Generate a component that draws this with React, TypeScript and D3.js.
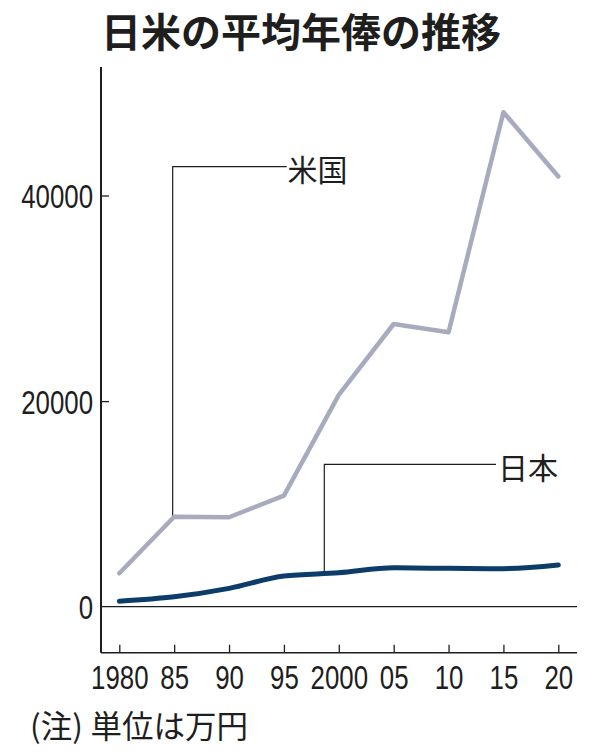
import { useEffect, useRef } from 'react';
import * as d3 from 'd3';

// ─── Data ───────────────────────────────────────────────────

const years = [1980, 1985, 1990, 1995, 2000, 2005, 2010, 2015, 2020];
const yearLabels = ['1980', '85', '90', '95', '2000', '05', '10', '15', '20'];
const usaValues = [3250, 8750, 8700, 10800, 20600, 27500, 26700, 48100, 41850];
const japanValues = [540, 960, 1780, 2980, 3300, 3780, 3730, 3700, 4050];
const yTicks = [0, 20000, 40000];

const W = 596;
const H = 756;

const NAVY = '#0c3c6a';
const GREY = '#a8abbe';
const INK = '#1e1e1e';
const CJK = '"Noto Sans CJK JP", "Noto Sans CJK SC", sans-serif';
const NUM = '"Liberation Sans", Arial, sans-serif';
// condensed digits: squeeze the regular face horizontally
const SQUEEZE = 0.76;

export default function App() {
  const svgRef = useRef<SVGSVGElement>(null);

  useEffect(() => {
    if (!svgRef.current) return;
    const svg = d3.select(svgRef.current);
    svg.selectAll('*').remove();

    const axisLeftX = 101;
    const axisRightX = 577;
    const axisTopY = 67;
    const axisBottomY = 652.7;

    const x = d3.scaleLinear().domain([1980, 2020]).range([119.3, 558.3]);
    const y = d3.scaleLinear().domain([0, 40000]).range([606.7, 195.5]);

    svg.append('rect').attr('width', W).attr('height', H).attr('fill', '#fff');

    // Title
    svg.append('text')
      .attr('x', 101).attr('y', 47)
      .attr('font-family', CJK).attr('font-weight', 700)
      .attr('font-size', 40).attr('fill', INK)
      .text('日米の平均年俸の推移');

    // Frame: y axis, x axis, zero line
    svg.append('line')
      .attr('x1', axisLeftX).attr('x2', axisLeftX)
      .attr('y1', axisTopY).attr('y2', axisBottomY)
      .attr('stroke', INK).attr('stroke-width', 2);
    svg.append('line')
      .attr('x1', axisLeftX).attr('x2', axisRightX)
      .attr('y1', axisBottomY).attr('y2', axisBottomY)
      .attr('stroke', INK).attr('stroke-width', 1.5);
    svg.append('line')
      .attr('x1', axisLeftX).attr('x2', axisRightX)
      .attr('y1', y(0)).attr('y2', y(0))
      .attr('stroke', INK).attr('stroke-width', 1.2);

    // X axis ticks + labels
    svg.append('g')
      .attr('transform', `translate(0,${axisBottomY})`)
      .call(d3.axisBottom(x).tickValues(years)
        .tickFormat((_, i) => yearLabels[i])
        .tickSizeInner(-8).tickSizeOuter(0))
      .call((sel) => sel.select('.domain').remove())
      .call((sel) => sel.selectAll('line').attr('stroke', INK).attr('stroke-width', 1.3))
      .call((sel) => sel.selectAll('text')
        .attr('x', 0).attr('y', 36.6).attr('dy', 0)
        .attr('transform', `scale(${SQUEEZE},1)`)
        .attr('fill', INK)
        .attr('font-family', NUM).attr('font-size', 34));

    // Y axis ticks + labels
    svg.append('g')
      .attr('transform', `translate(${axisLeftX},0)`)
      .call(d3.axisLeft(y).tickValues(yTicks)
        .tickFormat((d) => String(d))
        .tickSizeInner(-8).tickSizeOuter(0).tickPadding(8))
      .call((sel) => sel.select('.domain').remove())
      .call((sel) => sel.selectAll('line')
        .attr('stroke', INK).attr('stroke-width', 1.3)
        .attr('opacity', (d) => (d === 0 ? 0 : 1)))
      .call((sel) => sel.selectAll('text')
        .attr('x', -8 / SQUEEZE)
        .attr('dy', '0.36em')
        .attr('transform', `scale(${SQUEEZE},1)`)
        .attr('fill', INK)
        .attr('font-family', NUM).attr('font-size', 34));

    // Lines
    const usaLine = d3.line<number>()
      .x((_, i) => x(years[i]))
      .y((d) => y(d));
    const japanLine = d3.line<number>()
      .x((_, i) => x(years[i]))
      .y((d) => y(d))
      .curve(d3.curveMonotoneX);

    // Callouts
    const usaX = x(1985) - 1.5;
    svg.append('polyline')
      .attr('points', `${usaX},${y(usaValues[1])} ${usaX},166.7 286.7,166.7`)
      .attr('fill', 'none').attr('stroke', INK).attr('stroke-width', 1.2);
    svg.append('text')
      .attr('x', 287.5).attr('y', 168)
      .attr('dominant-baseline', 'central')
      .attr('font-family', CJK).attr('font-size', 30).attr('fill', INK)
      .text('米国');

    const jpX = 324.3;
    svg.append('polyline')
      .attr('points', `${jpX},573 ${jpX},464.3 496,464.3`)
      .attr('fill', 'none').attr('stroke', INK).attr('stroke-width', 1.2);
    svg.append('text')
      .attr('x', 498).attr('y', 465.5)
      .attr('dominant-baseline', 'central')
      .attr('font-family', CJK).attr('font-size', 30).attr('fill', INK)
      .text('日本');

    svg.append('path')
      .datum(usaValues)
      .attr('fill', 'none')
      .attr('stroke', GREY)
      .attr('stroke-width', 4.5)
      .attr('stroke-linejoin', 'round')
      .attr('stroke-linecap', 'round')
      .attr('d', usaLine);

    svg.append('path')
      .datum(japanValues)
      .attr('fill', 'none')
      .attr('stroke', NAVY)
      .attr('stroke-width', 5)
      .attr('stroke-linejoin', 'round')
      .attr('stroke-linecap', 'round')
      .attr('d', japanLine);

    // Note
    const note = svg.append('text')
      .attr('x', 30).attr('y', 738)
      .attr('font-family', CJK).attr('font-size', 31.5).attr('fill', INK);
    note.append('tspan').text('(注)');
    note.append('tspan').attr('x', 90.5).text('単位は万円');
  }, []);

  return (
    <div style={{ position: 'absolute', left: 0, top: 0 }}>
      <svg ref={svgRef} width={W} height={H} style={{ display: 'block' }} />
    </div>
  );
}
